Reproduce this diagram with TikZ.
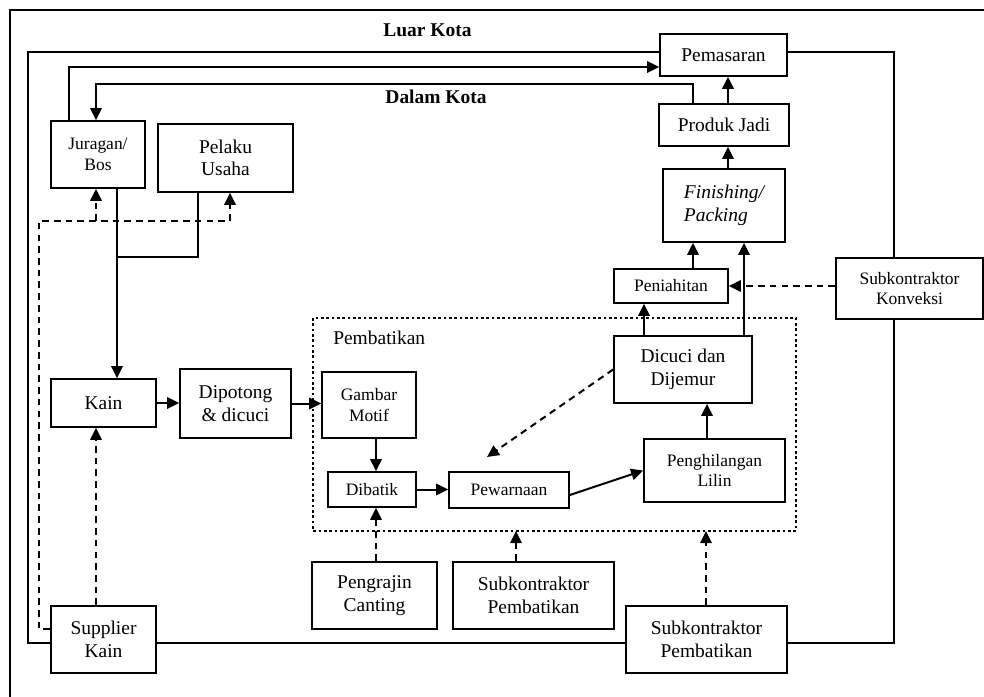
\documentclass[tikz,border=0pt]{standalone}
\usepackage{fontspec}
\setmainfont{Liberation Serif}
\usetikzlibrary{arrows.meta}
\newcommand{\bigtxt}{\fontsize{14.6}{17}\selectfont}
\newcommand{\smtxt}{\fontsize{13.1}{15.5}\selectfont}
\tikzset{
  boxnode/.style={draw, fill=white, line width=1.3pt, inner sep=0pt, align=center, font=\bigtxt},
  smallbox/.style={boxnode, font=\smtxt},
  conn/.style={line width=1.5pt, -{Triangle[length=9pt,width=8.5pt]}},
  dconn/.style={conn, dash pattern=on 5pt off 3.8pt},
  frame/.style={line width=2.2pt},
  lbl/.style={font=\bigtxt\bfseries, inner sep=0pt}
}
\begin{document}
\begin{tikzpicture}[x=0.75pt,y=-0.75pt]
\useasboundingbox (0,0) rectangle (984,696);
\clip (0,0) rectangle (984,696);
% outer frame (Luar Kota)
\draw[frame] (10,720) -- (10,10) -- (1000,10);
% inner frame (Dalam Kota)
\draw[frame] (28,52) rectangle (894,643);
\node[lbl] (luar) at (427.5,30) {Luar Kota};
\node[lbl] (dalam) at (436,97) {Dalam Kota};
% dotted Pembatikan area
\draw[line width=2.2pt, dash pattern=on 2pt off 2pt] (313,318) rectangle (796,531);
\node[font=\bigtxt, anchor=west, inner sep=0pt] (pembl) at (333,338) {Pembatikan};
\coordinate (dbot) at (500,531);
% nodes
\node[boxnode, minimum width=95.25pt, minimum height=31.5pt] (pem) at (723.5,55) {Pemasaran};
\node[boxnode, minimum width=97.5pt, minimum height=31.5pt] (prod) at (724,125) {Produk Jadi};
\node[boxnode, minimum width=91.5pt, minimum height=54.75pt, align=left, font=\bigtxt\itshape] (fin) at (724,205.5) {Finishing/\\Packing};
\node[smallbox, minimum width=85.5pt, minimum height=25.5pt] (pen) at (671,286) {Peniahitan};
\node[smallbox, minimum width=110.25pt, minimum height=45.75pt] (konv) at (909.5,288.5) {Subkontraktor\\Konveksi};
\node[boxnode, minimum width=103.5pt, minimum height=50.25pt] (dic) at (683,369.5) {Dicuci dan\\Dijemur};
\node[smallbox, minimum width=105.75pt, minimum height=47.25pt] (lilin) at (714.5,470.5) {Penghilangan\\Lilin};
\node[smallbox, minimum width=90pt, minimum height=27pt] (pew) at (509,490) {Pewarnaan};
\node[smallbox, minimum width=66pt, minimum height=26.25pt] (dib) at (372,489.5) {Dibatik};
\node[smallbox, minimum width=70.5pt, minimum height=49.5pt] (gam) at (369,405) {Gambar\\Motif};
\node[boxnode, minimum width=83.25pt, minimum height=51.75pt] (dip) at (235.5,403.5) {Dipotong\\\& dicuci};
\node[boxnode, minimum width=78.75pt, minimum height=36pt] (kain) at (103.5,403) {Kain};
\node[boxnode, minimum width=78.75pt, minimum height=50.25pt] (sup) at (103.5,639.5) {Supplier\\Kain};
\node[boxnode, minimum width=93.75pt, minimum height=50.25pt] (can) at (374.5,595.5) {Pengrajin\\Canting};
\node[boxnode, minimum width=120.75pt, minimum height=50.25pt] (sp1) at (533.5,595.5) {Subkontraktor\\Pembatikan};
\node[boxnode, minimum width=120.75pt, minimum height=50.25pt] (sp2) at (706.5,639.5) {Subkontraktor\\Pembatikan};
\node[smallbox, minimum width=70.5pt, minimum height=50.25pt] (jur) at (98,154.5) {Juragan/\\Bos};
\node[boxnode, minimum width=101.25pt, minimum height=51pt] (pel) at (225.5,158) {Pelaku\\Usaha};
% helper coordinates
\coordinate (j1) at (69,67);
\coordinate (p1) at (693,84);
\coordinate (p2) at (96,84);
\coordinate (c728) at (728,0);
\coordinate (c693) at (693,0);
\coordinate (c744) at (744,0);
\coordinate (c644) at (644,0);
\coordinate (c707) at (707,0);
\coordinate (c376) at (376,0);
\coordinate (c516) at (516,0);
\coordinate (c706) at (706,0);
\coordinate (c117) at (117,0);
\coordinate (c96) at (96,0);
\coordinate (pj) at (198,257);
\coordinate (pk) at (117,257);
\coordinate (tip) at (487,457);
\coordinate (d1) at (39,629);
\coordinate (d2) at (39,221);
\coordinate (d3) at (230,221);
\coordinate (d4) at (96,221);
% solid connectors
\draw[conn] (jur.north -| j1) -- (j1) -- (pem.west |- j1);
\draw[conn] (prod.north -| p1) -- (p1) -- (p2) -- (jur.north -| p2);
\draw[conn] (prod.north -| c728) -- (pem.south -| c728);
\draw[conn] (fin.north -| c728) -- (prod.south -| c728);
\draw[conn] (pen.north -| c693) -- (fin.south -| c693);
\draw[conn] (dic.north -| c744) -- (fin.south -| c744);
\draw[conn] (dic.north -| c644) -- (pen.south -| c644);
\draw[conn] (lilin.north -| c707) -- (dic.south -| c707);
\draw[conn] ([yshift=-3.75pt]pew.east) -- (lilin.west);
\draw[conn] (dib.east) -- (pew.west |- dib.east);
\draw[conn] (gam.south -| c376) -- (dib.north -| c376);
\draw[conn] (dip.east) -- (gam.west |- dip.east);
\draw[conn] (kain.east) -- (dip.west |- kain.east);
\draw[conn] (jur.south -| c117) -- (kain.north -| c117);
\draw[line width=1.5pt] (pel.south -| pj) -- (pj) -- (pk);
% dashed connectors
\draw[dconn] (konv.west |- pen.east) -- (pen.east);
\draw[dconn] (dic.west) -- (tip);
\draw[dconn] (sup.north -| c96) -- (kain.south -| c96);
\draw[dconn] (can.north -| c376) -- (dib.south -| c376);
\draw[dconn] (sp1.north -| c516) -- (dbot -| c516);
\draw[dconn] (sp2.north -| c706) -- (dbot -| c706);
\draw[line width=1.5pt, dash pattern=on 5pt off 3.8pt] (sup.west |- d1) -- (d1) -- (d2) -- (d3);
\draw[dconn] (d3) -- (pel.south -| d3);
\draw[dconn] (d4) -- (jur.south -| d4);
\end{tikzpicture}
\end{document}
